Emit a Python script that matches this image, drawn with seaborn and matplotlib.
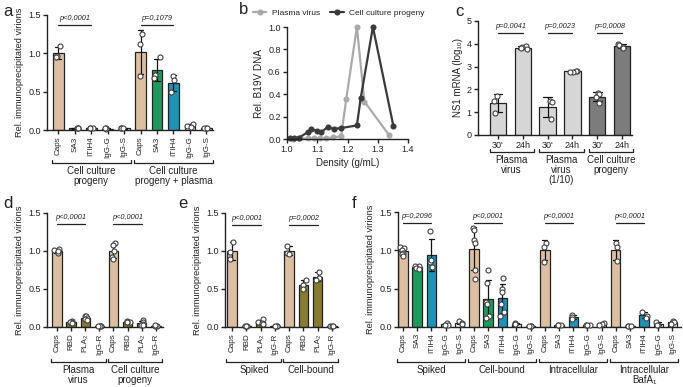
import numpy as np
import pandas as pd
import matplotlib
matplotlib.use("Agg")
import matplotlib.pyplot as plt
import seaborn as sns
from matplotlib import transforms

# ---------------- data ----------------
a_labels = ["Caps", "SA3", "ITIH4", "IgG-G", "IgG-S"] * 2
a_groups = ["Cell culture\nprogeny", "Cell culture\nprogeny + plasma"]
a_values = [[1.10, 0.97, 0.95], [0.02, 0.03, 0.02], [0.02, 0.03, 0.02], [0.02, 0.01, 0.02], [0.02, 0.03, 0.02],
            [1.25, 1.12, 0.70], [0.95, 0.72, 0.68], [0.70, 0.65, 0.50], [0.08, 0.05, 0.04], [0.02, 0.02, 0.02]]
a_pvals = ["p<0,0001", "p=0,1079"]

b_plasma_x = [1.020, 1.040, 1.068, 1.090, 1.110, 1.130, 1.152, 1.179, 1.196, 1.231, 1.256, 1.338]
b_plasma_y = [0.0, 0.005, 0.005, 0.005, 0.005, 0.005, 0.015, 0.024, 0.36, 1.0, 0.334, 0.033]
b_prog_x = [1.009, 1.024, 1.040, 1.068, 1.080, 1.099, 1.113, 1.134, 1.156, 1.179, 1.231, 1.244, 1.284, 1.352]
b_prog_y = [0.005, 0.01, 0.012, 0.06, 0.089, 0.074, 0.06, 0.107, 0.089, 0.098, 0.121, 0.37, 1.0, 0.112]

c_labels = ["30'", "24h"] * 3
c_groups = ["Plasma\nvirus", "Plasma\nvirus\n(1/10)", "Cell culture\nprogeny"]
c_values = [[1.72, 1.50, 0.95], [3.90, 3.85, 3.80, 3.78], [1.50, 1.45, 0.72], [2.82, 2.80, 2.76, 2.78],
            [1.85, 1.82, 1.65, 1.40], [3.98, 3.95, 3.85, 3.82]]
c_pvals = ["p=0,0041", "p=0,0023", "p=0,0008"]

d_labels = ["Caps", "RBD", "PLA₂", "IgG-R"] * 2
d_groups = ["Plasma\nvirus", "Cell culture\nprogeny"]
d_values = [[1.03, 1.01, 0.99, 0.97, 1.00], [0.08, 0.07, 0.06, 0.06, 0.05], [0.15, 0.14, 0.12, 0.10, 0.09], [0.01, 0.01, 0.01, 0.01],
            [1.10, 1.08, 1.00, 0.92, 0.90], [0.08, 0.07, 0.07, 0.06], [0.09, 0.06, 0.04, 0.03, 0.03], [0.01, 0.01, 0.02]]
d_pvals = ["p<0,0001", "p<0,0001"]

e_labels = ["Caps", "RBD", "PLA₂", "IgG-R"] * 2
e_groups = ["Spiked", "Cell-bound"]
e_values = [[1.12, 0.99, 0.89], [0.01, 0.01, 0.01], [0.10, 0.07, 0.05, 0.04], [0.01, 0.01, 0.01],
            [1.07, 0.98, 0.96], [0.62, 0.55, 0.50], [0.73, 0.64, 0.62], [0.01, 0.01, 0.01]]
e_pvals = ["p<0,0001", "p=0,0002"]

f_labels = ["Caps", "SA3", "ITIH4", "IgG-G", "IgG-S"] * 4
f_groups = ["Spiked", "Cell-bound", "Intracellular", "Intracellular\nBafA₁"]
f_values = [[1.05, 1.03, 1.01, 0.97, 0.95, 0.93], [0.80, 0.79, 0.77, 0.76], [1.25, 0.85, 0.78, 0.88], [0.05, 0.03, 0.02], [0.08, 0.05, 0.04],
            [1.29, 1.26, 1.13, 1.09, 0.74, 0.62], [0.74, 0.57, 0.33, 0.30, 0.15, 0.12], [0.64, 0.49, 0.46, 0.30, 0.20, 0.15], [0.05, 0.04, 0.04], [0.01, 0.01, 0.01],
            [1.10, 1.05, 0.85], [0.02, 0.02, 0.03], [0.16, 0.13, 0.10], [0.02, 0.02, 0.02], [0.05, 0.04, 0.03],
            [1.10, 1.05, 0.86], [0.01, 0.01, 0.01], [0.20, 0.14, 0.12], [0.07, 0.03, 0.03], [0.08, 0.06, 0.04]]
f_pvals = ["p=0,2096", "p<0,0001", "p<0,0001", "p<0,0001"]

COLORS = {"Caps": "#DCBFA3", "SA3": "#1E9A5C", "ITIH4": "#1F93B5", "IgG-G": "#FFFFFF", "IgG-S": "#FFFFFF",
          "RBD": "#877B30", "PLA₂": "#877B30", "IgG-R": "#FFFFFF"}
C_COLORS = ["#D6D6D6", "#D6D6D6", "#D6D6D6", "#D6D6D6", "#7C7C7C", "#7C7C7C"]

# ---------------- style ----------------
sns.set_theme(style="ticks")
plt.rcParams["font.family"] = ["Liberation Sans", "DejaVu Sans"]
plt.rcParams.update({
    "axes.linewidth": 1.0, "axes.edgecolor": "#222222",
    "xtick.major.width": 1.0, "ytick.major.width": 1.0,
    "xtick.major.size": 3, "ytick.major.size": 3,
    "xtick.labelsize": 5.8, "ytick.labelsize": 6.5, "axes.labelsize": 6.7,
    "xtick.major.pad": 1.5, "ytick.major.pad": 1.5,
    "xtick.color": "#222222", "ytick.color": "#222222",
    "text.color": "#222222", "axes.labelcolor": "#222222",
})

W, H = 683, 387
fig = plt.figure(figsize=(6.83, 3.87), dpi=100)


def add_ax(l, t, r, b):
    return fig.add_axes([l / W, 1 - b / H, (r - l) / W, (b - t) / H])


def group_bracket(ax, x0, x1, ypx, text):
    trans = transforms.blended_transform_factory(ax.transData, fig.transFigure)
    y = 1 - ypx / H
    h = 3 / H
    ax.plot([x0, x0, x1, x1], [y + h, y, y, y + h], transform=trans, clip_on=False,
            color="#222222", lw=0.9)
    ax.text((x0 + x1) / 2, y - 3 / H, text, transform=trans, ha="center", va="top",
            fontsize=7, linespacing=1.0)


def sig(ax, x0, x1, y, dy, text):
    ax.plot([x0, x1], [y, y], color="#222222", lw=0.9, clip_on=False)
    ax.text((x0 + x1) / 2, y + dy, text, ha="center", va="bottom", fontsize=5.3,
            style="italic")


def bar_panel(ax, labels, values, colors, ylim, yticks, ylabel, rot=90):
    keys = [str(i) for i in range(len(labels))]
    rows = [(k, v) for k, vals in zip(keys, values) for v in vals]
    df = pd.DataFrame(rows, columns=["key", "val"])
    pal = dict(zip(keys, colors))
    sns.barplot(data=df, x="key", y="val", hue="key", order=keys, hue_order=keys,
                palette=pal, legend=False, errorbar="sd", capsize=0.35, width=0.66,
                edgecolor="#222222", linewidth=0.9, saturation=1,
                err_kws={"color": "#111111", "linewidth": 0.9}, ax=ax)
    sns.stripplot(data=df, x="key", y="val", order=keys, color="white",
                  edgecolor="#404040", linewidth=0.8, size=3.6, jitter=0.18,
                  ax=ax, zorder=5)
    for coll in ax.collections:
        coll.set_clip_on(False)
    ax.set_ylim(*ylim)
    ax.set_yticks(yticks)
    ax.set_xticks(range(len(labels)))
    ax.set_xticklabels(labels, rotation=rot)
    ax.set_xlabel("")
    ax.set_ylabel(ylabel, labelpad=3)
    sns.despine(ax=ax)


ylab = "Rel. immunoprecipitated virions"
ticks15 = [0.0, 0.5, 1.0, 1.5]
tick_fmt = ["0.0", "0.5", "1.0", "1.5"]

# ---------------- panel a ----------------
ax_a = add_ax(47, 15, 213, 130)
bar_panel(ax_a, a_labels, a_values, [COLORS[l] for l in a_labels], (0, 1.5), ticks15, ylab)
ax_a.set_yticklabels(tick_fmt)
ax_a.set_xlim(-0.68, 9.4)
for g, (name, p) in enumerate(zip(a_groups, a_pvals)):
    s = g * 5
    sig(ax_a, s, s + 2, 1.37, 0.04, p)
    group_bracket(ax_a, s - 0.38, s + 4.4, 163, name)

# ---------------- panel b ----------------
ax_b = add_ax(287, 27, 408, 139)
df_b = pd.concat([
    pd.DataFrame({"Density": b_plasma_x, "DNA": b_plasma_y, "Source": "Plasma virus"}),
    pd.DataFrame({"Density": b_prog_x, "DNA": b_prog_y, "Source": "Cell culture progeny"}),
])
sns.lineplot(data=df_b, x="Density", y="DNA", hue="Source", marker="o",
             palette={"Plasma virus": "#AAAAAA", "Cell culture progeny": "#3A3A3A"},
             markersize=4.4, markeredgewidth=0, linewidth=1.6, ax=ax_b, legend=True)
for ln in ax_b.lines:
    ln.set_clip_on(False)
ax_b.set_xlim(1.0, 1.4)
ax_b.set_ylim(0, 1.0)
ax_b.set_xticks([1.0, 1.1, 1.2, 1.3, 1.4])
ax_b.set_xticklabels(["1.0", "1.1", "1.2", "1.3", "1.4"], fontsize=6.5)
ax_b.set_yticks([0, 0.2, 0.4, 0.6, 0.8, 1.0])
ax_b.set_yticklabels(["0.0", "0.2", "0.4", "0.6", "0.8", "1.0"])
ax_b.set_xlabel("Density (g/mL)", fontsize=7, labelpad=3)
ax_b.set_ylabel("Rel. B19V DNA", fontsize=7.2, labelpad=3)
h, l = ax_b.get_legend_handles_labels()
ax_b.get_legend().remove()
fig.legend(h, l, loc="center left", bbox_to_anchor=(253 / W, 1 - 13 / H), ncol=2,
           frameon=False, fontsize=6, handlelength=1.6, columnspacing=1.2,
           handletextpad=0.7, borderaxespad=0, borderpad=0)
sns.despine(ax=ax_b)

# ---------------- panel c ----------------
ax_c = add_ax(478, 21, 632, 135)
bar_panel(ax_c, c_labels, c_values, C_COLORS, (0, 5), [0, 1, 2, 3, 4, 5],
          "NS1 mRNA (log₁₀)", rot=0)
ax_c.yaxis.label.set_size(7)
ax_c.tick_params(axis="x", labelsize=6.5)
ax_c.set_xlim(-0.8, 5.4)
for g, (name, p) in enumerate(zip(c_groups, c_pvals)):
    s = g * 2
    sig(ax_c, s, s + 1, 4.47, 0.12, p)
    group_bracket(ax_c, s - 0.33, s + 1.45, 152, name)

# ---------------- panel d ----------------
ax_d = add_ax(47, 213, 163, 327)
bar_panel(ax_d, d_labels, d_values, [COLORS[l] for l in d_labels], (0, 1.5), ticks15, ylab)
ax_d.set_yticklabels(tick_fmt)
ax_d.set_xlim(-0.7, 7.5)
for g, (name, p) in enumerate(zip(d_groups, d_pvals)):
    s = g * 4
    sig(ax_d, s, s + 2, 1.36, 0.04, p)
    group_bracket(ax_d, s - 0.4, s + 3.45, 362, name)

# ---------------- panel e ----------------
ax_e = add_ax(225, 213, 338, 327)
bar_panel(ax_e, e_labels, e_values, [COLORS[l] for l in e_labels], (0, 1.5), ticks15, ylab)
ax_e.set_yticklabels(tick_fmt)
ax_e.set_xlim(-0.5, 7.42)
for g, (name, p) in enumerate(zip(e_groups, e_pvals)):
    s = g * 4
    sig(ax_e, s, s + 2, 1.34, 0.04, p)
    group_bracket(ax_e, s - 0.4, s + 3.45, 362, name)

# ---------------- panel f ----------------
ax_f = add_ax(398, 212, 681, 327)
bar_panel(ax_f, f_labels, f_values, [COLORS[l] for l in f_labels], (0, 1.5), ticks15, ylab)
ax_f.set_yticklabels(tick_fmt)
ax_f.set_xlim(-0.35, 19.6)
for g, (name, p) in enumerate(zip(f_groups, f_pvals)):
    s = g * 5
    sig(ax_f, s, s + 2, 1.36, 0.04, p)
    group_bracket(ax_f, s - 0.4, s + 4.4, 362, name)

# ---------------- panel letters ----------------
for letter, x, y in [("a", 3, 12), ("b", 239, 10), ("c", 455, 12),
                     ("d", 3, 203), ("e", 178, 203), ("f", 352, 203)]:
    fig.text(x / W, 1 - y / H, letter, fontsize=12, ha="left", va="center")

fig.savefig("out.png", dpi=100)
